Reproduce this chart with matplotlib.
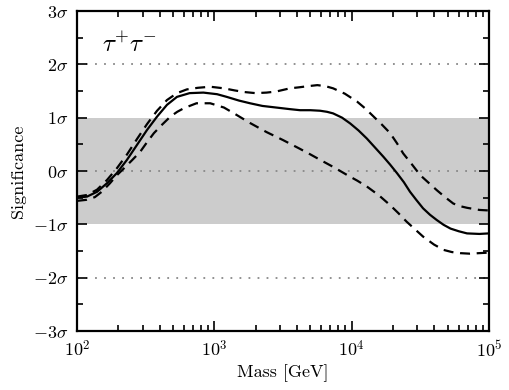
import numpy as np
import matplotlib
matplotlib.use("Agg")
import matplotlib.pyplot as plt
from matplotlib.ticker import MultipleLocator, LogLocator, NullFormatter

plt.rcParams['font.family'] = 'serif'
plt.rcParams['font.serif'] = ['cmr10', 'DejaVu Serif']
plt.rcParams['mathtext.fontset'] = 'cm'
plt.rcParams['axes.unicode_minus'] = False
plt.rcParams['axes.formatter.use_mathtext'] = True

# log10(mass) and significance for each curve
solid_logm = [2.0, 2.073, 2.146, 2.218, 2.29, 2.364, 2.437, 2.51, 2.583, 2.655, 2.728, 2.82, 2.92, 3.02,
              3.09, 3.18, 3.26, 3.35, 3.45, 3.55, 3.624, 3.70, 3.77, 3.82, 3.865, 3.93, 3.99, 4.05, 4.11,
              4.17, 4.23, 4.28, 4.33, 4.38, 4.425, 4.47, 4.52, 4.57, 4.62, 4.67, 4.72, 4.78, 4.84,
              4.93, 5.0]
solid_sig = [-0.50, -0.48, -0.39, -0.23, -0.04, 0.21, 0.49, 0.77, 1.02, 1.24, 1.39, 1.46, 1.47, 1.44,
             1.39, 1.32, 1.27, 1.22, 1.19, 1.16, 1.14, 1.14, 1.13, 1.11, 1.08, 1.00, 0.89, 0.76, 0.61,
             0.44, 0.27, 0.12, -0.04, -0.21, -0.39, -0.54, -0.70, -0.82, -0.92, -1.01, -1.08, -1.13, -1.17,
             -1.18, -1.17]

upper_logm = [2.0, 2.073, 2.146, 2.218, 2.29, 2.364, 2.437, 2.51, 2.583, 2.655, 2.728, 2.80, 2.88,
              2.97, 3.07, 3.15, 3.22, 3.30, 3.38, 3.45, 3.55, 3.62, 3.68, 3.75, 3.81, 3.865, 3.95, 4.04,
              4.10, 4.16, 4.22, 4.28, 4.33, 4.375, 4.44, 4.50, 4.56, 4.62, 4.68, 4.74, 4.79, 4.84,
              4.93, 5.0]
upper_sig = [-0.48, -0.45, -0.35, -0.17, 0.05, 0.31, 0.60, 0.88, 1.13, 1.33, 1.46, 1.53, 1.56,
             1.58, 1.55, 1.51, 1.48, 1.46, 1.47, 1.49, 1.55, 1.57, 1.59, 1.61, 1.59, 1.55, 1.45, 1.30,
             1.17, 1.02, 0.87, 0.71, 0.52, 0.33, 0.12, -0.08, -0.22, -0.36, -0.49, -0.61, -0.66, -0.69,
             -0.73, -0.74]

lower_logm = [2.0, 2.07, 2.13, 2.18, 2.24, 2.29, 2.33, 2.40, 2.46, 2.51, 2.56, 2.62, 2.68, 2.73, 2.78,
              2.87, 2.97, 3.07, 3.15, 3.26, 3.38, 3.50, 3.62, 3.70, 3.77, 3.87, 3.97, 4.04, 4.11, 4.20,
              4.28, 4.34, 4.40, 4.46, 4.52, 4.60, 4.67, 4.73, 4.79, 4.86, 4.93, 5.0]
lower_sig = [-0.56, -0.54, -0.49, -0.39, -0.23, -0.08, 0.02, 0.20, 0.36, 0.54, 0.71, 0.87, 1.02, 1.11, 1.18,
             1.27, 1.27, 1.19, 1.07, 0.90, 0.73, 0.58, 0.42, 0.31, 0.21, 0.07, -0.08, -0.18, -0.29, -0.46,
             -0.64, -0.79, -0.95, -1.09, -1.23, -1.38, -1.48, -1.52, -1.54, -1.55, -1.54, -1.53]

ytick_vals = [-3, -2, -1, 0, 1, 2, 3]
ytick_labels = [r'$-3\sigma$', r'$-2\sigma$', r'$-1\sigma$', r'$0\sigma$', r'$1\sigma$', r'$2\sigma$', r'$3\sigma$']
xtick_vals = [1e2, 1e3, 1e4, 1e5]
xtick_labels = [r'$10^2$', r'$10^3$', r'$10^4$', r'$10^5$']

fig = plt.figure(figsize=(5.1, 3.9), dpi=100)
ax = fig.add_axes([77/510, 1-331/390, (489-77)/510, (331-11)/390])

ax.set_xscale('log')
ax.set_xlim(1e2, 1e5)
ax.set_ylim(-3, 3)

ax.axhspan(-1, 1, color='#cccccc', lw=0, zorder=0)
for yv in [-2, 0, 2]:
    ax.axhline(yv, color='#888888', ls=(0, (1, 4)), lw=1.3, zorder=1)

ax.plot(10**np.array(solid_logm), solid_sig, color='black', lw=1.6, zorder=3)
ax.plot(10**np.array(upper_logm), upper_sig, color='black', lw=1.6, dashes=(4.5, 3), zorder=3)
ax.plot(10**np.array(lower_logm), lower_sig, color='black', lw=1.6, dashes=(4.5, 3), zorder=3)

ax.text(152, 2.36, r'$\tau^{+}\tau^{-}$', fontsize=18, va='center', ha='left')

ax.set_yticks(ytick_vals)
ax.set_yticklabels(ytick_labels)
ax.yaxis.set_minor_locator(MultipleLocator(0.5))
ax.set_xticks(xtick_vals)
ax.set_xticklabels(xtick_labels)
ax.xaxis.set_minor_locator(LogLocator(base=10, subs=np.arange(2, 10), numticks=20))
ax.xaxis.set_minor_formatter(NullFormatter())

ax.tick_params(which='both', direction='in', top=True, right=True, labelsize=13, width=1.2)
ax.tick_params(which='major', length=7, pad=6)
ax.tick_params(which='minor', length=4)
for s in ax.spines.values():
    s.set_linewidth(1.6)

ax.set_xlabel('Mass [GeV]', fontsize=13, labelpad=3)
ax.set_ylabel('Significance', fontsize=13, labelpad=5)

fig.savefig('out.png', dpi=100)
